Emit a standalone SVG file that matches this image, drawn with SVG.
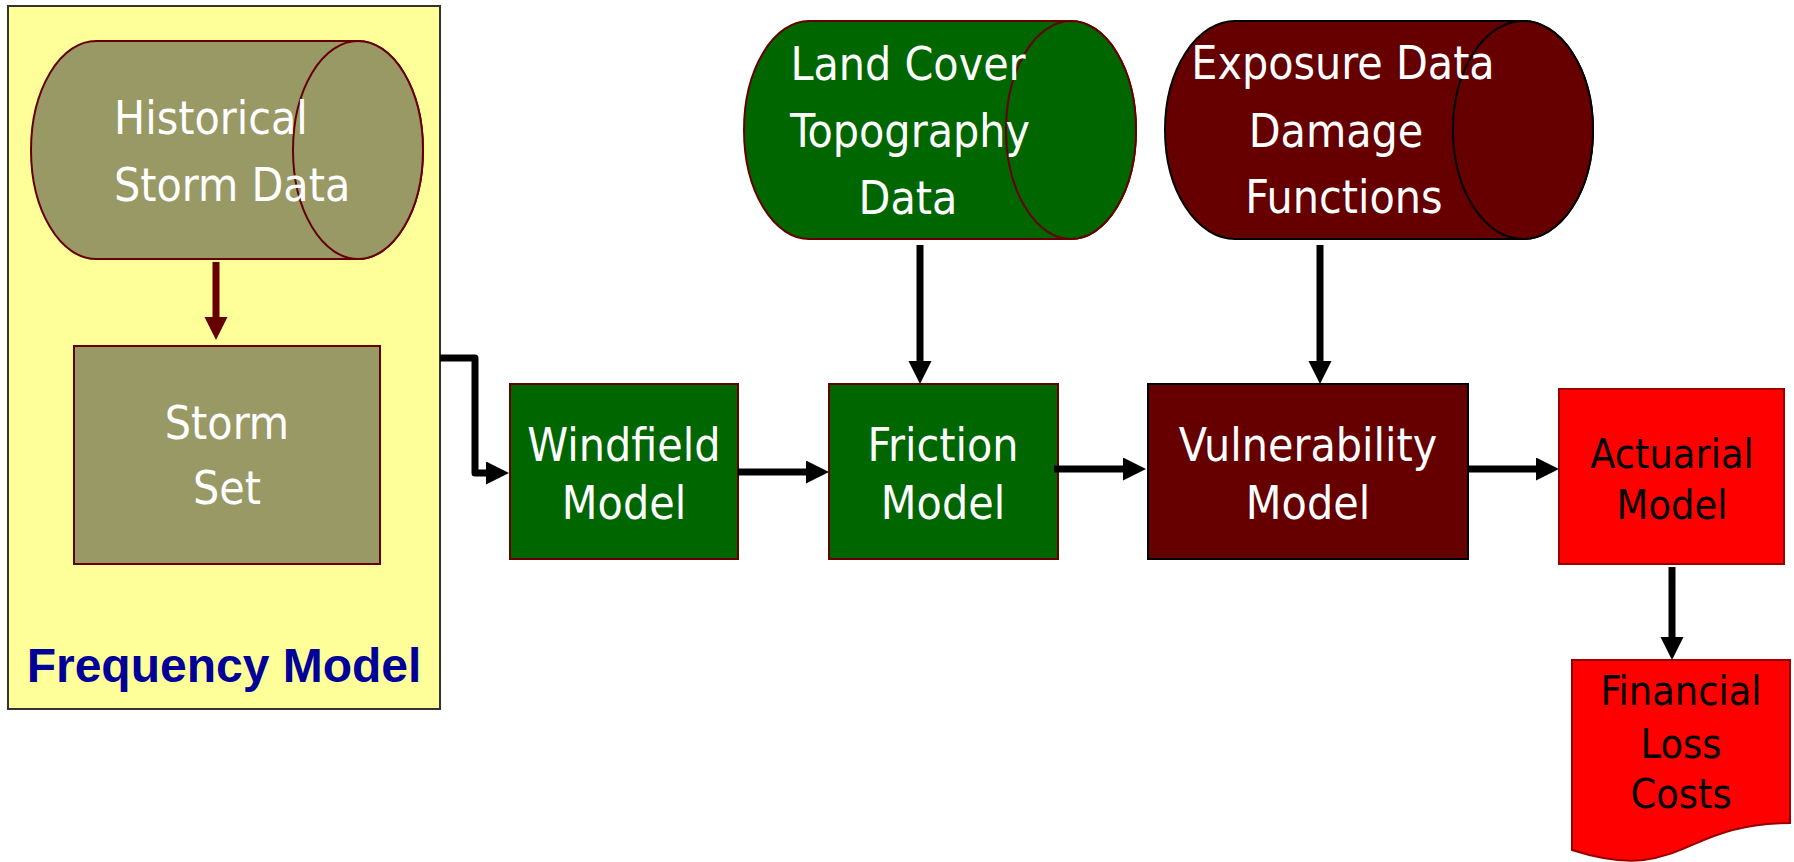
<svg xmlns="http://www.w3.org/2000/svg" width="1794" height="862" viewBox="0 0 1794 862">
  <style>
    .lbl { font-family: "DejaVu Sans Condensed", "DejaVu Sans", sans-serif; font-stretch: condensed; font-size: 46px; fill: #ffffff; text-anchor: middle; }
    .dark { fill: #000000; font-size: 41px; }
    .start { text-anchor: start; }
    .title { font-family: "Liberation Sans", Arial, sans-serif; font-weight: bold; font-size: 48px; fill: #000099; text-anchor: middle; }
    .olive { fill: #999966; stroke: #660000; stroke-width: 2; }
    .green { fill: #006600; stroke: #660000; stroke-width: 2; }
    .maroon { fill: #660000; stroke: #000000; stroke-width: 2; }
    .red { fill: #ff0000; stroke: #990000; stroke-width: 2; }
    .flow { fill: none; stroke: #000000; stroke-width: 7; marker-end: url(#arrow); }
    .flow-inner { fill: none; stroke: #660000; stroke-width: 7; marker-end: url(#arrow-dark); }
  </style>
  <defs>
    <marker id="arrow" markerUnits="userSpaceOnUse" markerWidth="24" markerHeight="24" refX="11" refY="11.5" orient="auto">
      <path d="M0,0 L23,11.5 L0,23 Z" fill="#000000"/>
    </marker>
    <marker id="arrow-dark" markerUnits="userSpaceOnUse" markerWidth="24" markerHeight="24" refX="11" refY="11.5" orient="auto">
      <path d="M0,0 L23,11.5 L0,23 Z" fill="#660000"/>
    </marker>
  </defs>

  <rect width="1794" height="862" fill="#ffffff"/>

  <!-- frequency model container -->
  <g id="frequency-model">
    <rect x="8" y="6" width="432" height="703" fill="#ffff99" stroke="#333333" stroke-width="2"/>
    <text class="title" x="224" y="682">Frequency Model</text>
  </g>

  <g id="historical-storm-data">
    <path class="olive" d="M96,41 H358 A65,109 0 0 1 358,259 H96 A65,109 0 0 1 96,41 Z"/>
    <ellipse class="olive" cx="358" cy="150" rx="65" ry="109"/>
    <text class="lbl start" x="114" y="134">Historical</text>
    <text class="lbl start" x="114" y="201">Storm Data</text>
  </g>

  <g id="storm-set">
    <rect class="olive" x="74" y="346" width="306" height="218"/>
    <text class="lbl" x="227" y="439">Storm</text>
    <text class="lbl" x="227" y="504">Set</text>
  </g>

  <g id="land-cover-data">
    <path class="green" d="M809,21 H1071 A65,109 0 0 1 1071,239 H809 A65,109 0 0 1 809,21 Z"/>
    <ellipse class="green" cx="1071" cy="130" rx="65" ry="109"/>
    <text class="lbl" x="908" y="80">Land Cover</text>
    <text class="lbl" x="910" y="147">Topography</text>
    <text class="lbl" x="908" y="214">Data</text>
  </g>

  <g id="exposure-data">
    <path class="maroon" d="M1235,21 H1523 A70,109 0 0 1 1523,239 H1235 A70,109 0 0 1 1235,21 Z"/>
    <ellipse class="maroon" cx="1523" cy="130" rx="70" ry="109"/>
    <text class="lbl" x="1343" y="79">Exposure Data</text>
    <text class="lbl" x="1336" y="147">Damage</text>
    <text class="lbl" x="1344" y="213">Functions</text>
  </g>

  <g id="windfield-model">
    <rect class="green" x="510" y="384" width="228" height="175"/>
    <text class="lbl" x="624" y="461">Windfield</text>
    <text class="lbl" x="624" y="519">Model</text>
  </g>

  <g id="friction-model">
    <rect class="green" x="829" y="384" width="229" height="175"/>
    <text class="lbl" x="943" y="461">Friction</text>
    <text class="lbl" x="943" y="519">Model</text>
  </g>

  <g id="vulnerability-model">
    <rect class="maroon" x="1148" y="384" width="320" height="175"/>
    <text class="lbl" x="1308" y="461">Vulnerability</text>
    <text class="lbl" x="1308" y="519">Model</text>
  </g>

  <g id="actuarial-model">
    <rect class="red" x="1559" y="389" width="225" height="175"/>
    <text class="lbl dark" x="1672" y="468">Actuarial</text>
    <text class="lbl dark" x="1672" y="519">Model</text>
  </g>

  <g id="financial-loss-costs">
    <path class="red" d="M1572,660 H1790 V823 C1681,823 1681,885 1572,850 Z"/>
    <text class="lbl dark" x="1681" y="705">Financial</text>
    <text class="lbl dark" x="1681" y="758">Loss</text>
    <text class="lbl dark" x="1681" y="808">Costs</text>
  </g>

  <!-- connectors -->
  <g id="connectors">
    <path class="flow-inner" d="M216,262 V328"/>
    <path class="flow" d="M440,358 H475 V473 H497" stroke-linejoin="round"/>
    <path class="flow" d="M738,472 H817"/>
    <path class="flow" d="M1054,469 H1134"/>
    <path class="flow" d="M1468,469 H1547"/>
    <path class="flow" d="M920,245 V372"/>
    <path class="flow" d="M1320,245 V372"/>
    <path class="flow" d="M1672,567 V648"/>
  </g>
</svg>
